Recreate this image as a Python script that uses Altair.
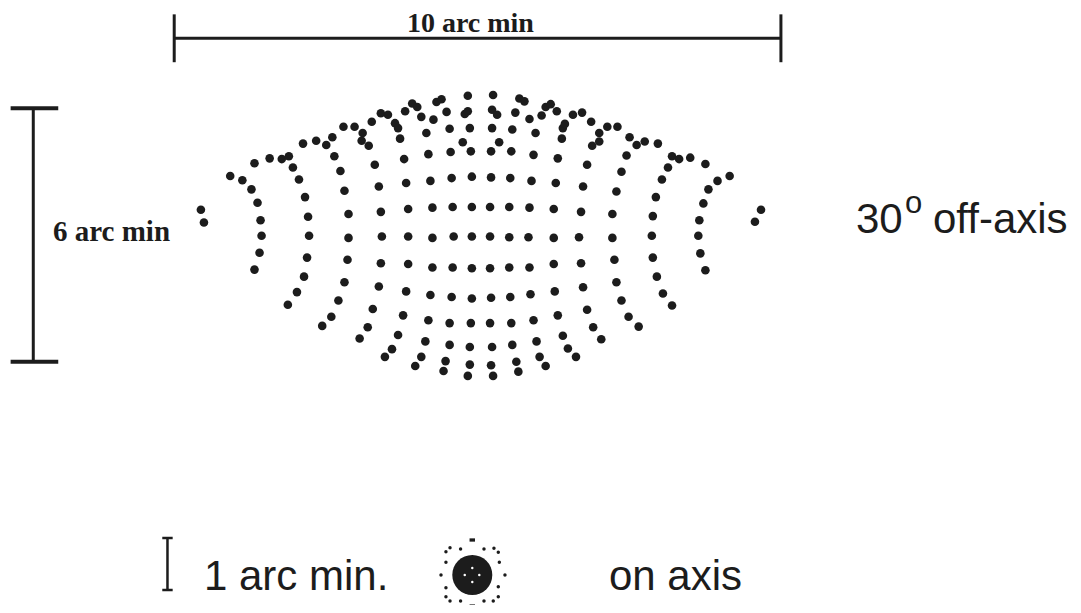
import altair as alt
import pandas as pd

# ---- 30 deg off-axis spot diagram: ray positions in arc seconds (x right, y up) ----
spot_x = [
    -277, -274, -248, -236, -227, -221, -218, -217, -219, -224,
    -224, -209, -197, -190, -186, -180, -174, -171, -170, -172, -175, -182, -191,
    -176, -163, -153, -147, -145, -139, -135, -131, -131, -132, -135, -141, -148, -157,
    -136, -125, -117, -118, -111, -105, -101, -99, -98, -99, -101, -107, -112, -120,
    -108, -99, -92, -85, -82, -80, -76, -74, -72, -72, -72, -74, -77, -82, -88, -95,
    -75, -68, -63, -59, -54, -52, -50, -48, -48, -48, -50, -52, -55, -59, -65,
    -47, -44, -39, -34, -31, -30, -29, -28, -27, -28, -29, -31, -31, -35, -37,
    -13, -16, -13, -11, -18, -10, -9, -9, -9, -9, -9, -10, -11, -11, -13,
    12, 11, 16, 11, 18, 10, 10, 9, 9, 9, 10, 9, 11, 10, 12,
    38, 43, 34, 31, 30, 29, 28, 28, 28, 29, 30, 31, 35, 37,
    48, 54, 52, 50, 48, 47, 48, 49, 52, 55, 58, 64,
    60, 64, 69, 75, 81, 83, 80, 76, 74, 72, 72, 72, 73, 76, 81, 86, 94,
    91, 100, 109, 117, 117, 110, 105, 101, 99, 97, 99, 101, 105, 111, 119,
    125, 135, 147, 154, 144, 139, 134, 130, 130, 132, 134, 139, 146, 156,
    162, 175, 189, 196, 185, 179, 173, 170, 169, 170, 174, 180, 189,
    207, 222, 234, 246, 225, 220, 216, 215, 217, 222,
    277, 271,
]
spot_y = [
    38, 20, 86, 80, 67, 48, 23, 1, -23, -47,
    104, 111, 110, 114, 98, 81, 56, 28, 1, -30, -57, -79, -97,
    132, 136, 130, 141, 114, 93, 65, 32, -2, -33, -65, -91, -114, -127,
    156, 156, 147, 136, 129, 102, 71, 35, 0, -38, -71, -103, -129, -145,
    163, 175, 173, 161, 154, 139, 110, 76, 39, 0, -39, -78, -112, -140, -160, -171,
    178, 189, 184, 170, 147, 117, 79, 41, -2, -44, -83, -119, -149, -171, -184,
    166, 191, 195, 177, 153, 120, 83, 42, 0, -44, -86, -123, -154, -177, -191,
    200, 174, 178, 154, 134, 121, 85, 42, 0, -45, -88, -123, -157, -182, -198,
    201, 180, 173, 154, 134, 121, 84, 42, 0, -45, -87, -123, -157, -183, -198,
    196, 192, 176, 152, 121, 83, 42, -1, -44, -86, -123, -154, -178, -192,
    167, 147, 116, 79, 41, -1, -44, -82, -119, -149, -171, -184,
    172, 184, 188, 178, 154, 160, 139, 111, 76, 39, -2, -39, -78, -112, -141, -159, -171,
    173, 176, 163, 147, 135, 129, 102, 71, 35, -1, -38, -72, -104, -129, -146,
    156, 156, 141, 130, 115, 92, 64, 32, -2, -33, -65, -91, -114, -128,
    135, 132, 114, 110, 98, 81, 56, 29, 1, -30, -57, -81, -98,
    112, 103, 79, 86, 67, 47, 23, 1, -24, -48,
    38, 21,
]

# ---- on-axis spot (inset, arc seconds) ----
core_x = [0]
core_y = [0]
core_holes_x = [0, -8.7, 8.1, 0]
core_holes_y = [8.1, 0, 0, -8.1]
ring_x = [-25.7, -30.4, -13.5, 13.5, 25.0, 30.0, -30.4, 31.2, -36.1, 37.7,
          -30.4, 30.0, -30.4, -25.7, -13.5, 13.5, 24.2, 30.0]
ring_y = [31.5, 26.9, 30.0, 30.0, 30.8, 26.2, 14.7, 14.7, 0, 0,
          -14.7, -13.5, -25.0, -30.0, -30.0, -30.0, -30.0, -25.0]
ring_pole_x = [0, 0]
ring_pole_y = [40.4, -35.8]

# scale bars (arc seconds)
h_bar = {"x": -303.4, "x2": 296.7, "y": 281.6}          # 10 arc min = 600"
v_bar = {"x": -442.8, "y": 182.1, "y2": -177.9}         # 6 arc min = 360"
inset_bar = {"x": -351.7, "y": 42.7, "y2": -17.3}       # 1 arc min = 60"

INK = "#1c1c1c"
SANS = "Liberation Sans, Arial, sans-serif"

Xm = alt.Scale(domain=[-467.8, 585.6], nice=False, zero=False)
Ym = alt.Scale(domain=[-523.5, 316.1], nice=False, zero=False)
Xi = alt.Scale(domain=[-535.7, 693.1], nice=False, zero=False)
Yi = alt.Scale(domain=[-34.6, 647.3], nice=False, zero=False)


def mx(f="x"):
    return alt.X(f + ":Q", scale=Xm, axis=None)


def my(f="y"):
    return alt.Y(f + ":Q", scale=Ym, axis=None)


def ix(f="x"):
    return alt.X(f + ":Q", scale=Xi, axis=None)


def iy(f="y"):
    return alt.Y(f + ":Q", scale=Yi, axis=None)


spots = alt.Chart(pd.DataFrame({"x": spot_x, "y": spot_y})).mark_circle(
    size=74, color=INK, opacity=1).encode(x=mx(), y=my())

# horizontal 10 arc min bar
hbar = alt.Chart(pd.DataFrame([h_bar])).mark_rule(color=INK, strokeWidth=3).encode(
    x=mx(), x2="x2:Q", y=my())
hticks = alt.Chart(pd.DataFrame({
    "x": [h_bar["x"], h_bar["x2"]],
    "y": [h_bar["y"] + 34, h_bar["y"] + 34],
    "y2": [h_bar["y"] - 34, h_bar["y"] - 34]})).mark_rule(
    color=INK, strokeWidth=3).encode(x=mx(), y=my(), y2="y2:Q")

# vertical 6 arc min bar
vbar = alt.Chart(pd.DataFrame([v_bar])).mark_rule(color=INK, strokeWidth=3).encode(
    x=mx(), y=my(), y2="y2:Q")
vcaps = alt.Chart(pd.DataFrame({
    "x": [v_bar["x"] - 22.4, v_bar["x"] - 22.4],
    "x2": [v_bar["x"] + 24.7, v_bar["x"] + 24.7],
    "y": [v_bar["y"], v_bar["y2"]]})).mark_rule(color=INK, strokeWidth=4).encode(
    x=mx(), x2="x2:Q", y=my())

serif_top = alt.Chart(pd.DataFrame({"x": [-10.4], "y": [290.5], "t": ["10 arc min"]})).mark_text(
    font="Liberation Serif", fontWeight="bold", fontSize=28, color=INK,
    align="center", baseline="alphabetic").encode(x=mx(), y=my(), text="t:N")
serif_left = alt.Chart(pd.DataFrame({"x": [-423.3], "y": [-5.7], "t": ["6 arc min"]})).mark_text(
    font="Liberation Serif", fontWeight="bold", fontSize=29, color=INK,
    align="left", baseline="alphabetic").encode(x=mx(), y=my(), text="t:N")

sans_big = alt.Chart(pd.DataFrame({
    "x": [370.9, 447.1], "y": [5.0, 5.0], "t": ["30", "off-axis"]})).mark_text(
    font=SANS, fontSize=42, color=INK, align="left",
    baseline="alphabetic").encode(x=mx(), y=my(), text="t:N")
sup = alt.Chart(pd.DataFrame({"x": [419.4], "y": [33.4], "t": ["o"]})).mark_text(
    font=SANS, fontSize=31, color=INK, align="left",
    baseline="alphabetic").encode(x=mx(), y=my(), text="t:N")

# ---- inset layers ----
ibar = alt.Chart(pd.DataFrame([inset_bar])).mark_rule(color=INK, strokeWidth=2.5).encode(
    x=ix(), y=iy(), y2="y2:Q")
icaps = alt.Chart(pd.DataFrame({
    "x": [inset_bar["x"] - 6, inset_bar["x"] - 6],
    "x2": [inset_bar["x"] + 6, inset_bar["x"] + 6],
    "y": [inset_bar["y"], inset_bar["y2"]]})).mark_rule(color=INK, strokeWidth=2.5).encode(
    x=ix(), x2="x2:Q", y=iy())
core = alt.Chart(pd.DataFrame({"x": core_x, "y": core_y})).mark_point(
    shape="circle", size=1600, filled=True, color=INK, opacity=1).encode(x=ix(), y=iy())
holes = alt.Chart(pd.DataFrame({"x": core_holes_x, "y": core_holes_y})).mark_circle(
    size=6, color="white", opacity=1).encode(x=ix(), y=iy())
ring = alt.Chart(pd.DataFrame({"x": ring_x, "y": ring_y})).mark_circle(
    size=12, color=INK, opacity=1).encode(x=ix(), y=iy())
poles = alt.Chart(pd.DataFrame({"x": ring_pole_x, "y": ring_pole_y})).mark_point(
    shape="M-1,-0.6L1,-0.6L1,0.6L-1,0.6Z", size=30, filled=True, color=INK, opacity=1).encode(x=ix(), y=iy())
inset_text = alt.Chart(pd.DataFrame({
    "x": [-309.6, 157.7], "y": [-17.3, -17.3], "t": ["1 arc min.", "on axis"]})).mark_text(
    font=SANS, fontSize=42, color=INK, align="left",
    baseline="alphabetic").encode(x=ix(), y=iy(), text="t:N")

chart = alt.layer(
    spots, hbar, hticks, vbar, vcaps, serif_top, serif_left, sans_big, sup,
    ibar, icaps, core, holes, ring, poles, inset_text,
).resolve_scale(x="independent", y="independent").properties(
    width=1065, height=591,
    padding={"top": 6, "left": 0, "right": 0, "bottom": 0},
    autosize=alt.AutoSizeParams(type="none"),
    background="white",
).configure_view(stroke=None)

chart.save("out.html", embed_options={"renderer": "svg", "actions": False})
